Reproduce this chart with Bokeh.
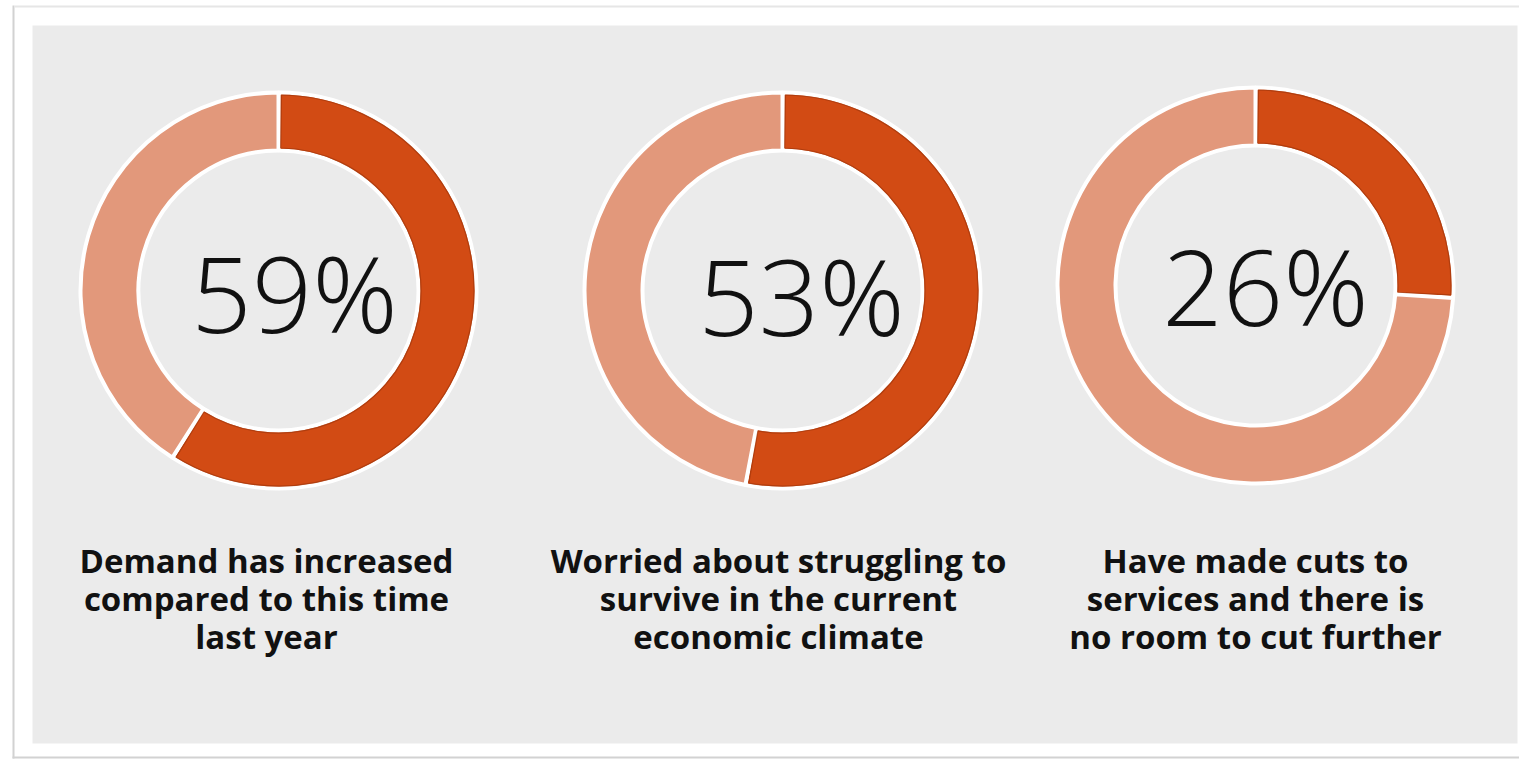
import math
from bokeh.plotting import figure
from bokeh.models import Range1d, ColumnDataSource
from bokeh.core.properties import value
from bokeh.embed import file_html
from bokeh.resources import INLINE

# ---- data ----
shares = [59, 53, 26]
pct_labels = ["59%", "53%", "26%"]
captions = [
    ["Demand has increased", "compared to this time", "last year"],
    ["Worried about struggling to", "survive in the current", "economic climate"],
    ["Have made cuts to", "services and there is", "no room to cut further"],
]

# ---- layout (page pixel positions, converted below) ----
W, H = 1519, 760
def px(xp):
    return xp
def py(yp):
    return H - yp

centers = [(278, 290), (782, 290), (1255, 285)]
pct_pos = [(294, 291), (801, 294), (1265, 284)]
cap_cx = [266, 778, 1255]
cap_baselines = [560, 598, 636]
R_OUT, R_IN = 198, 140

DARK = "#D24B14"
DARK_EDGE = "#A7390C"
LIGHT = "#E2987B"
PANEL = "#EBEBEB"

p = figure(width=W, height=H, output_backend="svg", toolbar_location=None,
           x_range=Range1d(0, W), y_range=Range1d(0, H), min_border=0,
           background_fill_color="white", border_fill_color="white",
           outline_line_color=None)
p.axis.visible = False
p.grid.visible = False

# card shadow & panel
p.quad(left=[px(12)], right=[px(14)], bottom=[py(758)], top=[py(5)],
       fill_color="#D2D2D2", line_color=None)
p.quad(left=[px(12)], right=[W], bottom=[py(758)], top=[py(756)],
       fill_color="#D2D2D2", line_color=None)
p.quad(left=[px(14)], right=[W], bottom=[py(7)], top=[py(5)],
       fill_color="#E6E6E6", line_color=None)
p.quad(left=[px(32)], right=[px(1517)], bottom=[py(743)], top=[py(25)],
       fill_color=PANEL, line_color=None)

# donuts
xs, ys, starts, ends, colors = [], [], [], [], []
dx, dy, ds, de = [], [], [], []
for (cx, cy), s in zip(centers, shares):
    a = 90 - 360 * s / 100.0
    xs += [px(cx), px(cx)]
    ys += [py(cy), py(cy)]
    starts += [math.radians(a), math.radians(90)]
    ends += [math.radians(90), math.radians(a + 360)]
    colors += [DARK, LIGHT]
    dx.append(px(cx)); dy.append(py(cy))
    ds.append(math.radians(a) + 2.6 / 170); de.append(math.radians(90) - 2.6 / 170)
src = ColumnDataSource(dict(x=xs, y=ys, s=starts, e=ends, c=colors))
p.annular_wedge(x="x", y="y", inner_radius=R_IN, outer_radius=R_OUT,
                inner_radius_units="screen", outer_radius_units="screen",
                start_angle="s", end_angle="e", fill_color="c",
                line_color="white", line_width=4, source=src)
# thin darker rim on the highlighted segment
p.annular_wedge(x=dx, y=dy, inner_radius=R_IN + 2.5, outer_radius=R_OUT - 2.5,
                inner_radius_units="screen", outer_radius_units="screen",
                start_angle=ds, end_angle=de, fill_color=None,
                line_color=DARK_EDGE, line_width=1.2, line_alpha=0.8)

# percentages
p.text(x=[px(x) for x, _ in pct_pos], y=[py(y) for _, y in pct_pos], text=pct_labels,
       text_font=value("Open Sans Light"), text_font_size="106px", text_color="#111111",
       text_align="center", text_baseline="middle")

# captions
cx_list, cy_list, lines = [], [], []
for cx, cap in zip(cap_cx, captions):
    for bl, line in zip(cap_baselines, cap):
        cx_list.append(px(cx))
        cy_list.append(py(bl))
        lines.append(line)
p.text(x=cx_list, y=cy_list, text=lines, text_font=value("Open Sans"),
       text_font_style="bold", text_font_size="33px", text_color="#111111",
       text_align="center", text_baseline="alphabetic")

open("out.html", "w").write(file_html(p, INLINE))
